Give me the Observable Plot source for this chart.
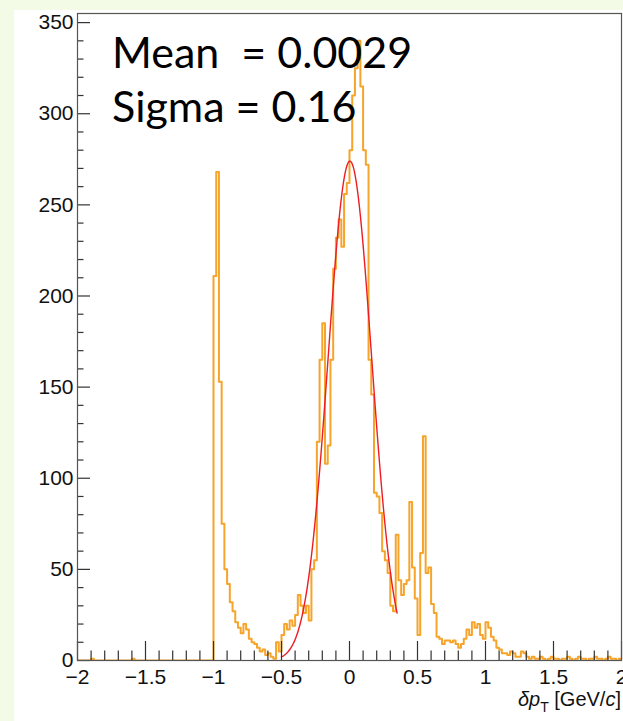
<!DOCTYPE html>
<html><head><meta charset="utf-8">
<script src="https://cdn.jsdelivr.net/npm/d3@7"></script>
<script src="https://cdn.jsdelivr.net/npm/@observablehq/plot@0.6"></script>
<style>
html,body{margin:0;padding:0;background:#f3fae6;width:623px;height:721px;overflow:hidden;}
#panel{position:absolute;left:14px;top:10px;width:609px;height:711px;background:#fff;}
#chart{position:absolute;left:0;top:0;}
</style></head><body><div id="panel"></div><div id="chart"></div>
<script>
// Histogram: 200 bins of width 0.02 from -2 to 2
const binStart = -2;
const binWidth = 0.02;
const counts = [
  // -2.00 .. -1.02
  0,0,0,0,0,1,0,0,0,0, 0,0,0,0,0,0,0,0,0,0, 1,0,0,0,0,0,0,0,0,0,
  0,0,0,0,0,0,0,0,0,0, 0,0,0,0,0,0,0,0,0,0,
  // -1.00 .. -0.82
  211,268,153,75,50,42,32,27,21,18,
  // -0.80 .. -0.62
  15,20,17,12,10,9,7,5,6,3,
  // -0.60 .. -0.42
  4,2,1,10,5,14,20,17,22,19,
  // -0.40 .. -0.22
  25,36,30,26,30,22,50,55,120,165,
  // -0.20 .. -0.02
  185,108,118,165,215,232,242,227,256,262,
  // 0.00 .. 0.18
  280,310,325,340,315,280,272,165,146,92,
  // 0.20 .. 0.38
  90,81,60,55,48,30,27,69,44,36,
  // 0.40 .. 0.58
  42,44,87,51,34,14,59,123,48,51,
  // 0.60 .. 0.78
  31,26,13,12,9,11,11,10,11,9,
  // 0.80 .. 0.98
  7,9,12,17,14,21,18,20,14,12,
  // 1.00 .. 1.18
  21,18,13,11,7,6,4,4,3,5,
  // 1.20 .. 1.38
  4,2,2,5,4,2,1,2,1,1,
  // 1.40 .. 1.58
  2,1,0,1,2,1,1,0,1,1,
  // 1.60 .. 1.78
  2,1,0,1,2,1,1,0,1,1,
  // 1.80 .. 1.98
  2,1,1,0,1,2,1,1,0,1
];
// Gaussian fit parameters (as shown on the chart)
const fitMean = 0.0029;
const fitSigma = 0.16;
const fitAmplitude = 274;
const fitRange = [-0.5, 0.35];

const xDomain = [-2, 2];
const yDomain = [0, 355];
const xTicks = [-2, -1.5, -1, -0.5, 0, 0.5, 1, 1.5, 2];
const yTicks = [0, 50, 100, 150, 200, 250, 300, 350];
const statLines = ["Mean  = 0.0029", "Sigma = 0.16"];

const hist = counts.map((c, i) => ({x: binStart + i * binWidth, y: c}));
hist.push({x: binStart + counts.length * binWidth, y: counts[counts.length - 1]});
const fit = d3.range(0, 301).map(k => {
  const x = fitRange[0] + (fitRange[1] - fitRange[0]) * k / 300;
  return {x, y: fitAmplitude * Math.exp(-((x - fitMean) ** 2) / (2 * fitSigma ** 2))};
});
const minorX = d3.range(-20, 21).map(k => k / 10).filter(v => Math.abs(v * 2 - Math.round(v * 2)) > 1e-9);
const minorY = d3.range(0, 351, 10).filter(v => v % 50 !== 0);

const W = 623, H = 721, mL = 77, mR = 2, mT = 13, mB = 61;
const innerW = W - mL - mR, innerH = H - mT - mB;
const fmt = d => (d < 0 ? "\u2212" + Math.abs(d) : String(d));
const axisColor = "#333";
const labelFont = "'Liberation Sans', Arial, sans-serif";

const chart = Plot.plot({
  width: W, height: H,
  marginLeft: mL, marginRight: mR, marginTop: mT, marginBottom: mB,
  style: {background: "transparent", fontFamily: labelFont, color: "#111", overflow: "visible"},
  x: {domain: xDomain},
  y: {domain: yDomain},
  marks: [
    Plot.line(hist, {x: "x", y: "y", curve: "step-after", stroke: "#f6a42a", strokeWidth: 2, clip: true}),
    Plot.line(fit, {x: "x", y: "y", stroke: "#ee1c24", strokeWidth: 1.4}),
    Plot.tickX(xTicks, {insetTop: innerH - 19, stroke: axisColor, strokeWidth: 1.2}),
    Plot.tickX(minorX, {insetTop: innerH - 9.5, stroke: axisColor, strokeWidth: 1.2}),
    Plot.tickY(yTicks, {insetRight: innerW - 13, stroke: axisColor, strokeWidth: 1.2}),
    Plot.tickY(minorY, {insetRight: innerW - 6.5, stroke: axisColor, strokeWidth: 1.2}),
    Plot.frame({stroke: "#555", strokeWidth: 1.2}),
    Plot.axisX(xTicks, {tickSize: 0, tickPadding: 9, tickFormat: fmt, label: null, fontSize: 21, fontFamily: labelFont, fill: "#111"}),
    Plot.axisY(yTicks, {tickSize: 0, tickPadding: 4, tickFormat: fmt, label: null, fontSize: 21, fontFamily: labelFont, fill: "#111"})
  ]
});
document.getElementById("chart").appendChild(chart);

const svg = d3.select(chart);
const stats = svg.append("g")
  .attr("font-family", "Lato, 'Open Sans', sans-serif")
  .attr("font-size", 43)
  .attr("text-anchor", "start")
  .attr("fill", "#000");
statLines.forEach((s, i) => {
  stats.append("text").attr("x", 112).attr("y", 68 + i * 54)
    .attr("text-anchor", "start")
    .style("white-space", "pre").text(s);
});
const t = svg.append("text")
  .attr("x", 621).attr("y", 706)
  .attr("text-anchor", "end")
  .attr("font-family", labelFont)
  .attr("font-size", 20).attr("fill", "#111");
t.append("tspan").attr("font-style", "italic").text("\u03b4p");
t.append("tspan").attr("font-size", 14).attr("dy", 6).text("T");
t.append("tspan").attr("dy", -6).text(" [GeV/");
t.append("tspan").attr("font-style", "italic").text("c");
t.append("tspan").text("]");
</script>
</body></html>
